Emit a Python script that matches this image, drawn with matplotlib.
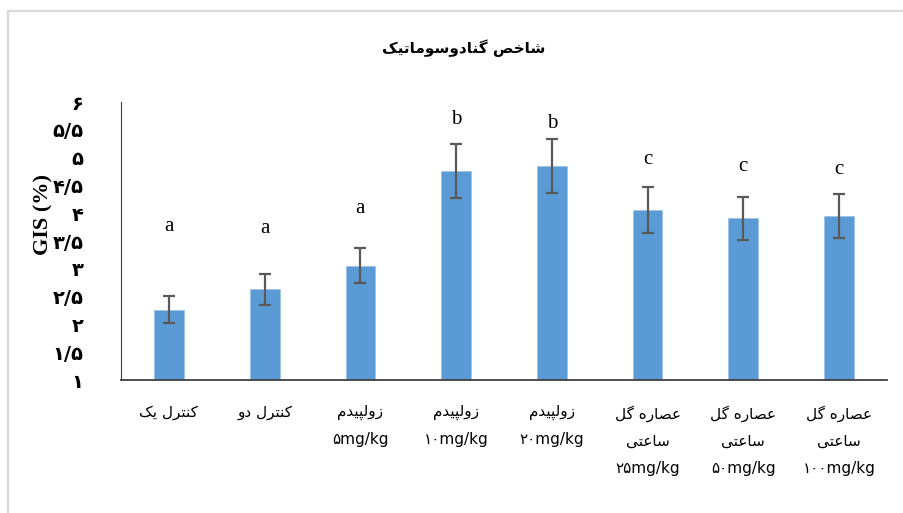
import matplotlib
matplotlib.use('Agg')
import matplotlib.pyplot as plt
from matplotlib.lines import Line2D

# Persian presentation forms: (isolated, final, initial, medial); None = joins on the right only
FORMS = {
    'ا': (0xFE8D, 0xFE8E, None, None), 'د': (0xFEA9, 0xFEAA, None, None),
    'ر': (0xFEAD, 0xFEAE, None, None), 'ز': (0xFEAF, 0xFEB0, None, None),
    'و': (0xFEED, 0xFEEE, None, None),
    'ت': (0xFE95, 0xFE96, 0xFE97, 0xFE98), 'خ': (0xFEA5, 0xFEA6, 0xFEA7, 0xFEA8),
    'س': (0xFEB1, 0xFEB2, 0xFEB3, 0xFEB4), 'ش': (0xFEB5, 0xFEB6, 0xFEB7, 0xFEB8),
    'ص': (0xFEB9, 0xFEBA, 0xFEBB, 0xFEBC), 'ع': (0xFEC9, 0xFECA, 0xFECB, 0xFECC),
    'ل': (0xFEDD, 0xFEDE, 0xFEDF, 0xFEE0), 'م': (0xFEE1, 0xFEE2, 0xFEE3, 0xFEE4),
    'ن': (0xFEE5, 0xFEE6, 0xFEE7, 0xFEE8), 'ه': (0xFEE9, 0xFEEA, 0xFEEB, 0xFEEC),
    'پ': (0xFB56, 0xFB57, 0xFB58, 0xFB59), 'ک': (0xFB8E, 0xFB8F, 0xFB90, 0xFB91),
    'گ': (0xFB92, 0xFB93, 0xFB94, 0xFB95), 'ی': (0xFBFC, 0xFBFD, 0xFBFE, 0xFBFF),
}


def fa(s):
    """Shape a line of Persian letters and put it in visual (left-to-right) order."""
    if not any(c in FORMS for c in s):
        return s
    out = []
    for i, c in enumerate(s):
        if c not in FORMS:
            out.append(c)
            continue
        prev = s[i - 1] if i > 0 else ''
        nxt = s[i + 1] if i + 1 < len(s) else ''
        join_prev = prev in FORMS and FORMS[prev][2] is not None
        join_next = nxt in FORMS and FORMS[c][2] is not None
        iso, fin, ini, med = FORMS[c]
        if join_prev and join_next:
            g = med
        elif join_prev:
            g = fin
        elif join_next:
            g = ini
        else:
            g = iso
        out.append(chr(g))
    return ''.join(out[::-1])


title = 'شاخص گنادوسوماتیک'
categories = [
    'کنترل یک',
    'کنترل دو',
    'زولپیدم\n۵mg/kg',
    'زولپیدم\n۱۰mg/kg',
    'زولپیدم\n۲۰mg/kg',
    'عصاره گل\nساعتی\n۲۵mg/kg',
    'عصاره گل\nساعتی\n۵۰mg/kg',
    'عصاره گل\nساعتی\n۱۰۰mg/kg',
]
gis_mean = [2.27, 2.63, 3.06, 4.76, 4.85, 4.06, 3.91, 3.95]
gis_err = [0.24, 0.27, 0.31, 0.48, 0.49, 0.41, 0.39, 0.40]
groups = ['a', 'a', 'a', 'b', 'b', 'c', 'c', 'c']
group_y = [3.77, 3.73, 4.09, 5.69, 5.62, 4.96, 4.85, 4.78]
yticks = [1, 1.5, 2, 2.5, 3, 3.5, 4, 4.5, 5, 5.5, 6]
ytick_labels = ['۱', '۱/۵', '۲', '۲/۵', '۳', '۳/۵', '۴', '۴/۵', '۵', '۵/۵', '۶']

fig = plt.figure(figsize=(9.04, 5.13), dpi=100)
ax = fig.add_axes([0.134, 0.259, 0.847, 0.542])

x = range(len(categories))
ax.bar(x, [m - 1 for m in gis_mean], bottom=1, width=0.31, color='#5B9BD5',
       edgecolor='#9DC3E6', linewidth=0.6, zorder=2)
ax.errorbar(x, gis_mean, yerr=gis_err, fmt='none', ecolor='#595959',
            elinewidth=1.6, capsize=4.3, capthick=1.6, zorder=3)
for xi, g, gy in zip(x, groups, group_y):
    ax.text(xi, gy, g, ha='center', va='center', fontsize=15,
            family='Liberation Serif')

ax.set_xlim(-0.5, len(categories) - 0.5)
ax.set_ylim(1, 6)
ax.set_yticks(yticks)
ax.set_yticklabels(ytick_labels, fontsize=14, fontweight='bold', family='DejaVu Sans')
ax.set_xticks(list(x))
ax.set_xticklabels(['\n'.join(fa(l) for l in c.split('\n')) for c in categories],
                   fontsize=11, family='DejaVu Sans', linespacing=2.0, va='top')
ax.tick_params(axis='y', length=0, pad=27)
ax.tick_params(axis='x', length=0, pad=18)
for side in ('top', 'right'):
    ax.spines[side].set_visible(False)
ax.spines['left'].set_color('#404040')
ax.spines['bottom'].set_color('#404040')
ax.spines['bottom'].set_linewidth(1.3)

ax.set_ylabel('GIS (%)', fontsize=16, fontweight='bold', family='Liberation Serif',
              va='center')
ax.yaxis.set_label_coords(-0.102, 0.594)
fig.text(0.513, 0.906, fa(title), ha='center', va='center', fontsize=11,
         fontweight='bold', family='DejaVu Sans')

# light frame around the chart area
fig.add_artist(Line2D([0.0085, 0.0085], [0, 0.978], color='#D9D9D9', lw=1.6))
fig.add_artist(Line2D([0.0085, 1.0], [0.978, 0.978], color='#D9D9D9', lw=1.6))

fig.savefig('out.png', dpi=100)
